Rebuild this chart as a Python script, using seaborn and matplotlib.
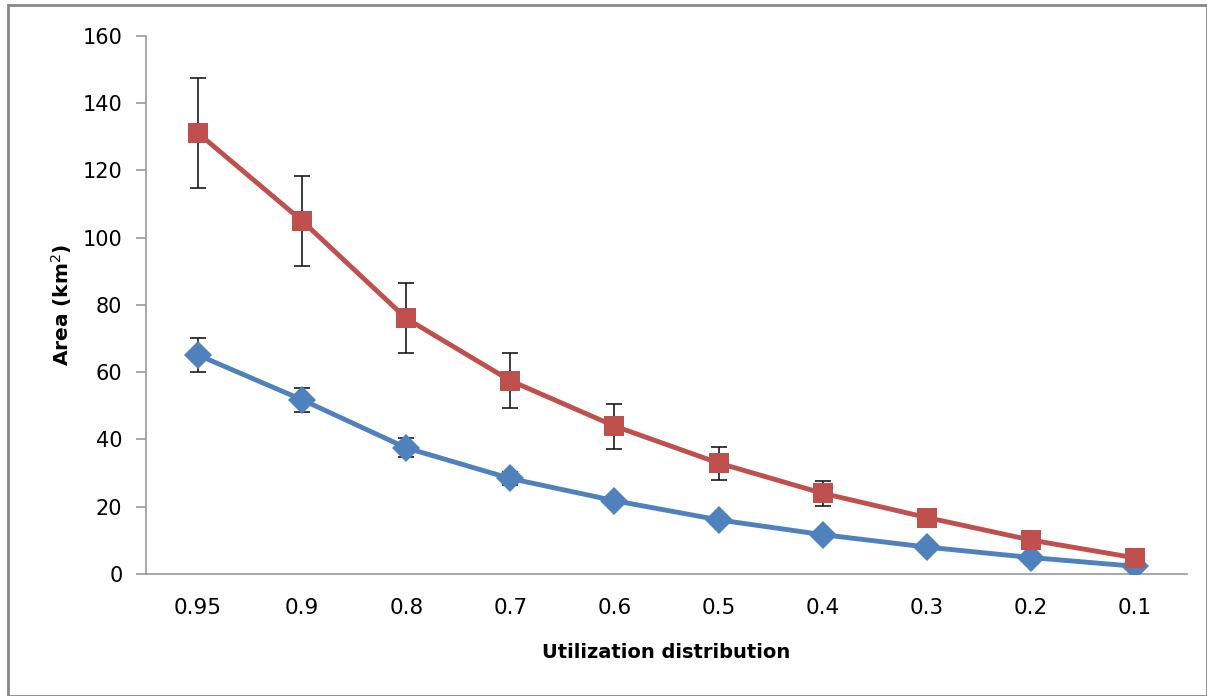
import matplotlib
matplotlib.use('Agg')
import matplotlib.pyplot as plt
from matplotlib.patches import Rectangle
import numpy as np
import pandas as pd
import seaborn as sns

# utilization distribution levels (x categories)
ud_levels = ['0.95', '0.9', '0.8', '0.7', '0.6', '0.5', '0.4', '0.3', '0.2', '0.1']

# blue series (diamonds)
blue_area = [65.1, 51.8, 37.5, 28.4, 21.8, 16.1, 11.7, 8.0, 4.9, 2.3]
blue_err = [5.1, 3.6, 2.8, 2.0, 1.5, 1.0, 0.8, 0.6, 0.4, 0.3]

# red series (squares)
red_area = [131.1, 105.0, 76.0, 57.5, 44.0, 33.0, 24.0, 16.8, 10.1, 4.8]
red_err = [16.3, 13.3, 10.4, 8.2, 6.7, 4.9, 3.7, 2.0, 1.2, 0.6]

sns.set_style('white')
plt.rcParams['font.family'] = ['DejaVu Sans']
plt.rcParams['text.color'] = 'black'
plt.rcParams['axes.labelcolor'] = 'black'
plt.rcParams['xtick.labelcolor'] = 'black'
plt.rcParams['ytick.labelcolor'] = 'black'

fig = plt.figure(figsize=(12.07, 6.96), dpi=100)
ax = fig.add_axes([0.121, 0.1753, 0.8624, 0.773])

pos = np.arange(len(ud_levels))
df = pd.DataFrame({'pos': np.concatenate([pos, pos]),
                   'area': blue_area + red_area,
                   'series': ['blue'] * len(pos) + ['red'] * len(pos)})

# error bars (drawn under the markers)
ax.errorbar(pos, blue_area, yerr=blue_err, fmt='none', ecolor='#1a1a1a',
            elinewidth=1.2, capsize=6, capthick=1.2, zorder=2)
ax.errorbar(pos, red_area, yerr=red_err, fmt='none', ecolor='#1a1a1a',
            elinewidth=1.2, capsize=6, capthick=1.2, zorder=2)

sns.lineplot(data=df[df.series == 'blue'], x='pos', y='area', ax=ax,
             color='#4F81BD', lw=3.5, marker='D', markersize=14,
             markeredgewidth=0, zorder=3)
sns.lineplot(data=df[df.series == 'red'], x='pos', y='area', ax=ax,
             color='#C0504D', lw=3.5, marker='s', markersize=15,
             markeredgewidth=0, zorder=4)

ax.set_xlim(-0.5, len(ud_levels) - 0.5)
ax.set_ylim(0, 160)
ax.set_yticks(np.arange(0, 161, 20))
ax.set_xticks(pos)
ax.set_xticklabels(ud_levels)
ax.set_xticks(np.arange(-0.5, len(ud_levels), 1), minor=True)
ax.tick_params(axis='x', which='major', length=0, pad=17, labelsize=15.5)
ax.tick_params(axis='x', which='minor', length=7, color='#999999', width=1.2,
               direction='out')
ax.tick_params(axis='y', length=7, color='#999999', width=1.2, direction='out',
               pad=10, labelsize=15, left=True)

for side in ['top', 'right']:
    ax.spines[side].set_visible(False)
for side in ['left', 'bottom']:
    ax.spines[side].set_color('#999999')
    ax.spines[side].set_linewidth(1.2)

ax.set_xlabel('Utilization distribution', fontsize=14, fontweight='bold', labelpad=18)
ax.set_ylabel('Area (km$^2$)', fontsize=14.5, fontweight='bold', labelpad=6)

# outer gray frame
fig.patches.append(Rectangle((0.007, 0.0), 0.993, 0.993, transform=fig.transFigure,
                             fill=False, edgecolor='#888888', lw=2))

fig.savefig('out.png', dpi=100)
